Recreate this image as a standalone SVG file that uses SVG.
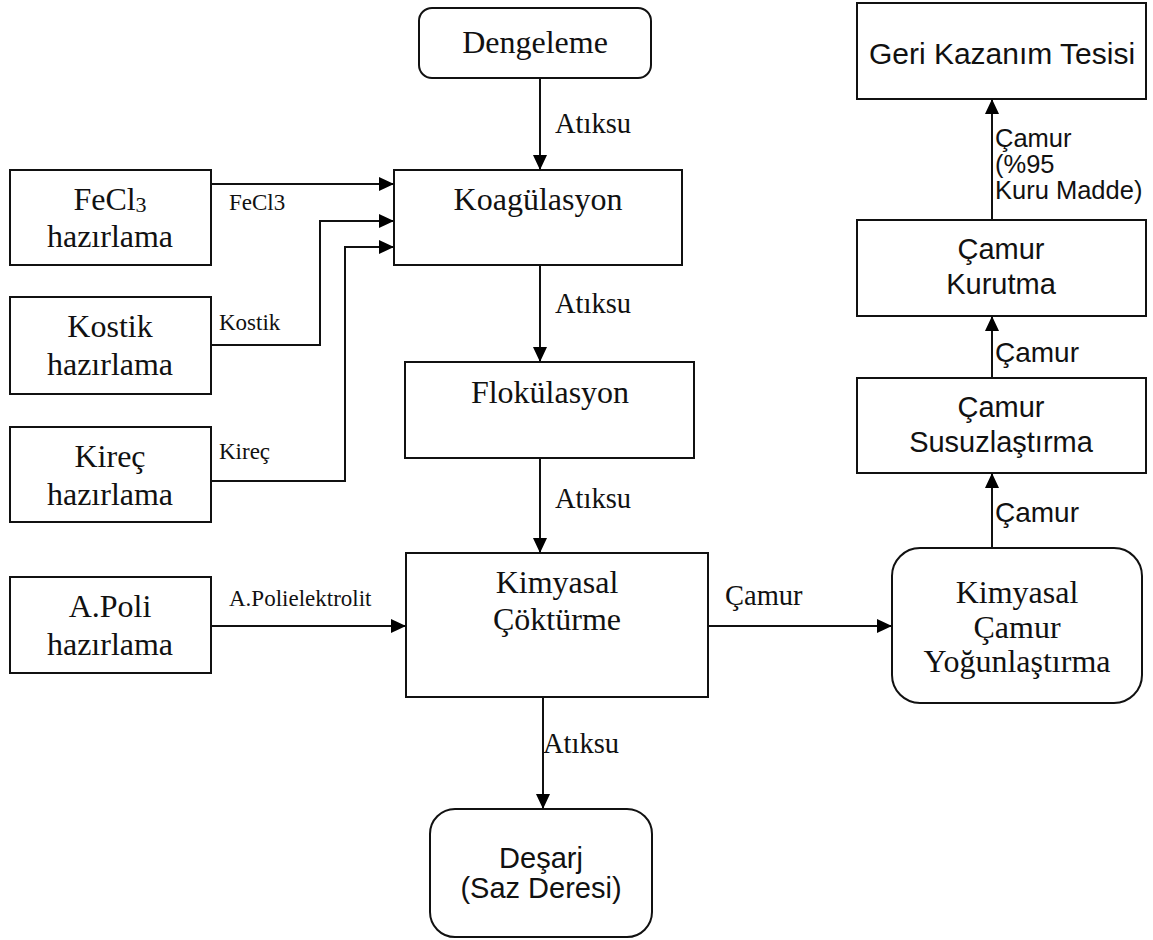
<svg xmlns="http://www.w3.org/2000/svg" width="1153" height="940" viewBox="0 0 1153 940">
<defs>
<marker id="ah" markerUnits="userSpaceOnUse" markerWidth="16" markerHeight="14" refX="15" refY="7" orient="auto">
<path d="M0,0 L15,7 L0,14 Z" fill="#000"/>
</marker>
<style>
rect{fill:#fff;stroke:#111;stroke-width:2}
.c path{fill:none;stroke:#111;stroke-width:2;marker-end:url(#ah)}
.s{font-family:"Liberation Serif","Times New Roman",serif;font-size:32px;fill:#111;text-anchor:middle}
.a{font-family:"Liberation Sans",Arial,sans-serif;font-size:29px;fill:#111;text-anchor:middle}
.l{font-family:"Liberation Serif","Times New Roman",serif;font-size:28.5px;fill:#111}
.ls{font-family:"Liberation Serif","Times New Roman",serif;font-size:23px;fill:#111}
.la{font-family:"Liberation Sans",Arial,sans-serif;font-size:28px;fill:#111}
</style>
</defs>
<rect width="1153" height="940" style="fill:#fff;stroke:none"/>
<g id="dengeleme"><rect x="419" y="8" width="232" height="70" rx="13"/><text class="s" x="535" y="53">Dengeleme</text></g>
<g id="koagulasyon"><rect x="394" y="170" width="288" height="95"/><text class="s" x="538" y="210">Koagülasyon</text></g>
<g id="flokulasyon"><rect x="405" y="362" width="289" height="96"/><text class="s" x="550" y="403">Flokülasyon</text></g>
<g id="cokturme"><rect x="406" y="553" width="302" height="144"/><text class="s" x="557" y="593">Kimyasal</text><text class="s" x="557" y="630">Çöktürme</text></g>
<g id="desarj"><rect x="430" y="809" width="222" height="128" rx="25"/><text class="a" x="541" y="868">Deşarj</text><text class="a" x="541" y="898">(Saz Deresi)</text></g>
<g id="fecl3"><rect x="10" y="170" width="201" height="95"/><text class="s" x="110" y="210">FeCl<tspan font-size="22" dy="2">3</tspan></text><text class="s" x="110" y="247">hazırlama</text></g>
<g id="kostik"><rect x="10" y="297" width="201" height="97"/><text class="s" x="110" y="337">Kostik</text><text class="s" x="110" y="375">hazırlama</text></g>
<g id="kirec"><rect x="10" y="427" width="201" height="95"/><text class="s" x="110" y="467">Kireç</text><text class="s" x="110" y="505">hazırlama</text></g>
<g id="apoli"><rect x="10" y="577" width="201" height="96"/><text class="s" x="110" y="617">A.Poli</text><text class="s" x="110" y="655">hazırlama</text></g>
<g id="yogunlastirma"><rect x="892" y="548" width="250" height="155" rx="28"/><text class="s" x="1017" y="603">Kimyasal</text><text class="s" x="1017" y="638">Çamur</text><text class="s" x="1017" y="672">Yoğunlaştırma</text></g>
<g id="susuzlastirma"><rect x="857" y="378" width="289" height="95"/><text class="a" x="1001" y="417">Çamur</text><text class="a" x="1001" y="452">Susuzlaştırma</text></g>
<g id="kurutma"><rect x="857" y="220" width="289" height="96"/><text class="a" x="1001" y="259">Çamur</text><text class="a" x="1001" y="294">Kurutma</text></g>
<g id="gerikazanim"><rect x="857" y="3" width="289" height="96"/><text class="a" x="1002" y="64" style="font-size:30px">Geri Kazanım Tesisi</text></g>
<g id="connectors" class="c">
<path d="M540,78 V170"/>
<path d="M540,265 V362"/>
<path d="M540,458 V553"/>
<path d="M543,697 V809"/>
<path d="M211,184 H394"/>
<path d="M211,345 H320 V221 H394"/>
<path d="M211,481 H345 V247 H394"/>
<path d="M211,626 H406"/>
<path d="M708,626 H892"/>
<path d="M992,548 V473"/>
<path d="M992,378 V316"/>
<path d="M992,220 V99"/>
</g>
<g id="labels">
<text class="l" x="555" y="133">Atıksu</text>
<text class="l" x="555" y="313">Atıksu</text>
<text class="l" x="555" y="508">Atıksu</text>
<text class="l" x="543" y="753">Atıksu</text>
<text class="ls" x="229" y="210">FeCl3</text>
<text class="ls" x="219" y="330">Kostik</text>
<text class="ls" x="219" y="459">Kireç</text>
<text class="ls" x="229" y="606">A.Polielektrolit</text>
<text class="l" x="725" y="605">Çamur</text>
<text class="la" x="995" y="522">Çamur</text>
<text class="la" x="995" y="362">Çamur</text>
<text class="la" x="995" y="147" style="font-size:25.5px">Çamur</text>
<text class="la" x="995" y="173" style="font-size:25.5px">(%95</text>
<text class="la" x="995" y="199" style="font-size:25.5px">Kuru Madde)</text>
</g>
</svg>
